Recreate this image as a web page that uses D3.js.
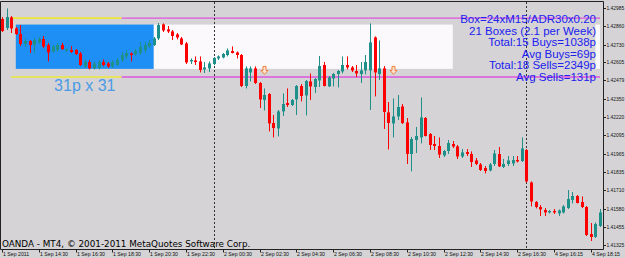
<!DOCTYPE html>
<html>
<head>
  <meta charset="utf-8">
  <script src="https://d3js.org/d3.v7.min.js"></script>
  <style>
    body { margin: 0; background: #d5d3d5; overflow: hidden; }
    svg { display: block; }
  </style>
</head>
<body>
<div id="chart"></div>
<script>
// M15 bars, 1 Sep 2011 12:30 .. 4 Sep 2011 18:45 (prices)
var opens = [
  1.42909, 1.42846, 1.42920, 1.42843, 1.42804, 1.42734, 1.42755, 1.42727, 1.42745, 1.42769,
  1.42727, 1.42682, 1.42692, 1.42727, 1.42689, 1.42692, 1.42692, 1.42668, 1.42577, 1.42608,
  1.42563, 1.42566, 1.42608, 1.42598, 1.42577, 1.42587, 1.42622, 1.42647, 1.42668, 1.42664,
  1.42671, 1.42692, 1.42717, 1.42727, 1.42773, 1.42871, 1.42836, 1.42822, 1.42801, 1.42773,
  1.42738, 1.42612, 1.42619, 1.42612, 1.42556, 1.42563, 1.42594, 1.42633, 1.42640, 1.42657,
  1.42685, 1.42675, 1.42657, 1.42440, 1.42535, 1.42563, 1.42461, 1.42342, 1.42384, 1.42181,
  1.42143, 1.42262, 1.42321, 1.42307, 1.42346, 1.42440, 1.42374, 1.42472, 1.42433, 1.42479,
  1.42587, 1.42437, 1.42493, 1.42524, 1.42542, 1.42587, 1.42570, 1.42545, 1.42524, 1.42549,
  1.42549, 1.42780, 1.42524, 1.42563, 1.42255, 1.42178, 1.42227, 1.42297, 1.42185, 1.41964,
  1.42062, 1.42080, 1.42216, 1.42104, 1.42034, 1.42020, 1.41954, 1.41985, 1.42034, 1.42017,
  1.41947, 1.41978, 1.41964, 1.41919, 1.41891, 1.41866, 1.41849, 1.41894, 1.41964, 1.41873,
  1.41894, 1.41898, 1.41922, 1.41915, 1.41992, 1.41765, 1.41628, 1.41593, 1.41572, 1.41555,
  1.41565, 1.41548, 1.41555, 1.41586, 1.41642, 1.41670, 1.41628, 1.41593, 1.41404, 1.41383,
  1.41460
];
var highs = [
  1.42923, 1.42983, 1.42930, 1.42853, 1.42867, 1.42776, 1.42762, 1.42776, 1.42783, 1.42790,
  1.42741, 1.42727, 1.42741, 1.42741, 1.42703, 1.42720, 1.42699, 1.42678, 1.42622, 1.42622,
  1.42608, 1.42622, 1.42626, 1.42608, 1.42622, 1.42636, 1.42678, 1.42692, 1.42675, 1.42699,
  1.42748, 1.42748, 1.42762, 1.42783, 1.42881, 1.42878, 1.42860, 1.42832, 1.42811, 1.42783,
  1.42748, 1.42633, 1.42647, 1.42647, 1.42608, 1.42612, 1.42643, 1.42654, 1.42671, 1.42703,
  1.42717, 1.42682, 1.42664, 1.42577, 1.42577, 1.42577, 1.42468, 1.42423, 1.42391, 1.42237,
  1.42272, 1.42388, 1.42423, 1.42349, 1.42447, 1.42454, 1.42482, 1.42528, 1.42496, 1.42650,
  1.42608, 1.42510, 1.42531, 1.42552, 1.42647, 1.42647, 1.42580, 1.42587, 1.42608, 1.42657,
  1.42878, 1.42787, 1.42759, 1.42580, 1.42328, 1.42353, 1.42377, 1.42314, 1.42216, 1.42083,
  1.42153, 1.42360, 1.42223, 1.42111, 1.42090, 1.42080, 1.41992, 1.42062, 1.42055, 1.42027,
  1.41999, 1.41999, 1.41982, 1.41936, 1.41901, 1.41880, 1.41901, 1.41992, 1.42013, 1.41929,
  1.41950, 1.41950, 1.41950, 1.42080, 1.41999, 1.41772, 1.41635, 1.41607, 1.41586, 1.41572,
  1.41579, 1.41576, 1.41607, 1.41712, 1.41698, 1.41677, 1.41667, 1.41600, 1.41481, 1.41485,
  1.41579
];
var lows = [
  1.42818, 1.42832, 1.42811, 1.42797, 1.42720, 1.42713, 1.42671, 1.42671, 1.42734, 1.42706,
  1.42612, 1.42671, 1.42678, 1.42692, 1.42678, 1.42671, 1.42657, 1.42580, 1.42566, 1.42556,
  1.42556, 1.42556, 1.42577, 1.42566, 1.42566, 1.42580, 1.42608, 1.42629, 1.42612, 1.42650,
  1.42657, 1.42671, 1.42706, 1.42720, 1.42762, 1.42818, 1.42811, 1.42762, 1.42766, 1.42727,
  1.42594, 1.42594, 1.42587, 1.42535, 1.42531, 1.42538, 1.42587, 1.42622, 1.42633, 1.42647,
  1.42668, 1.42633, 1.42433, 1.42423, 1.42472, 1.42454, 1.42286, 1.42269, 1.42122, 1.42080,
  1.42087, 1.42230, 1.42293, 1.42300, 1.42237, 1.42332, 1.42234, 1.42342, 1.42391, 1.42433,
  1.42437, 1.42433, 1.42437, 1.42430, 1.42528, 1.42556, 1.42538, 1.42503, 1.42461, 1.42521,
  1.42272, 1.42367, 1.42482, 1.42139, 1.41996, 1.42080, 1.42202, 1.42174, 1.41894, 1.41842,
  1.41971, 1.42038, 1.42087, 1.41992, 1.41992, 1.41936, 1.41943, 1.41964, 1.42006, 1.41929,
  1.41936, 1.41950, 1.41873, 1.41887, 1.41845, 1.41828, 1.41842, 1.41880, 1.41873, 1.41866,
  1.41880, 1.41880, 1.41905, 1.41908, 1.41765, 1.41597, 1.41583, 1.41530, 1.41530, 1.41548,
  1.41544, 1.41530, 1.41548, 1.41579, 1.41618, 1.41618, 1.41586, 1.41390, 1.41355, 1.41376,
  1.41453
];
var closes = [
  1.42825, 1.42923, 1.42843, 1.42804, 1.42734, 1.42755, 1.42727, 1.42762, 1.42769, 1.42717,
  1.42675, 1.42717, 1.42727, 1.42699, 1.42696, 1.42678, 1.42664, 1.42587, 1.42612, 1.42563,
  1.42598, 1.42608, 1.42587, 1.42577, 1.42608, 1.42622, 1.42657, 1.42671, 1.42657, 1.42685,
  1.42713, 1.42727, 1.42741, 1.42773, 1.42867, 1.42829, 1.42822, 1.42790, 1.42780, 1.42731,
  1.42605, 1.42622, 1.42608, 1.42552, 1.42570, 1.42598, 1.42636, 1.42647, 1.42664, 1.42689,
  1.42671, 1.42657, 1.42440, 1.42563, 1.42563, 1.42461, 1.42346, 1.42377, 1.42178, 1.42146,
  1.42262, 1.42314, 1.42307, 1.42342, 1.42440, 1.42370, 1.42475, 1.42437, 1.42489, 1.42580,
  1.42440, 1.42500, 1.42524, 1.42545, 1.42587, 1.42570, 1.42549, 1.42528, 1.42549, 1.42608,
  1.42745, 1.42535, 1.42563, 1.42258, 1.42181, 1.42227, 1.42293, 1.42181, 1.41964, 1.42069,
  1.42090, 1.42220, 1.42090, 1.42027, 1.42020, 1.41960, 1.41985, 1.42041, 1.42017, 1.41947,
  1.41975, 1.41964, 1.41908, 1.41894, 1.41852, 1.41845, 1.41891, 1.41968, 1.41877, 1.41894,
  1.41919, 1.41922, 1.41912, 1.42003, 1.41772, 1.41632, 1.41593, 1.41576, 1.41555, 1.41565,
  1.41555, 1.41569, 1.41597, 1.41649, 1.41670, 1.41621, 1.41593, 1.41397, 1.41383, 1.41474,
  1.41555
];

// axis labels
var timeLabels = ["1 Sep 2011", "1 Sep 14:30", "1 Sep 16:30", "1 Sep 18:30", "1 Sep 20:30",
  "1 Sep 22:30", "2 Sep 00:30", "2 Sep 02:30", "2 Sep 04:30", "2 Sep 06:30", "2 Sep 08:30",
  "2 Sep 10:30", "2 Sep 12:30", "2 Sep 14:30", "2 Sep 16:30", "4 Sep 16:15", "4 Sep 18:15"];
var timeLabelBars = [0, 8, 16, 24, 32, 40, 48, 56, 64, 72, 80, 88, 96, 104, 112, 120, 128];
var priceTicks = [1.42985, 1.42860, 1.42730, 1.42605, 1.42479, 1.42350, 1.42220,
  1.42095, 1.41965, 1.41835, 1.41710, 1.41580, 1.41455, 1.41325];
var daySeparators = [46, 114];

// indicator objects
var boxFrom = [3, 33, 129];
var boxTo = [33, 98, 130];
var boxTop = 1.42870, boxBottom = 1.42560;
var levelHigh = 1.42915, levelLow = 1.42503;
var oldLevel = [2, 26], newLevel = [26, 130];
var arrowBars = [57, 85];
var arrowPrice = 1.42577;
var boxLabel = "31p x 31";
var infoLines = ["Box=24xM15/ADR30x0.20", "21 Boxes (2.1 per Week)", "Total:15 Buys=1038p",
  "Avg Buys=69p", "Total:18 Sells=2349p", "Avg Sells=131p"];
var copyright = "OANDA - MT4, \u00A9 2001-2011 MetaQuotes Software Corp.";

var W = 625, H = 258, plotRight = 603.5, plotBottom = 249.5;
var bull = "#1f8f8a", bear = "#ff0000";

var svg = d3.select("#chart").append("svg").attr("width", W).attr("height", H);

var x = d3.scaleLinear().domain([0, opens.length - 1]).range([2, 600]);
var y = d3.scaleLinear().domain([1.4132, 1.43028]).range([246, 2]);
var px = function(i) { return Math.round(x(i)); };

// boxes (behind everything else)
svg.selectAll("rect.box").data(boxFrom).enter().append("rect")
  .attr("class", "box")
  .attr("x", function(d) { return x(d); })
  .attr("width", function(d, i) { return x(boxTo[i]) - x(d); })
  .attr("y", y(boxTop))
  .attr("height", y(boxBottom) - y(boxTop))
  .attr("fill", function(d, i) { return i === 0 ? "#1e8ff5" : "#fbf9fb"; });

// breakout levels: yellow for the old box, magenta for the current one
[levelHigh, levelLow].forEach(function(lv) {
  svg.append("line").attr("x1", x(oldLevel[0])).attr("x2", x(oldLevel[1]))
    .attr("y1", y(lv)).attr("y2", y(lv))
    .attr("stroke", "#ece83a").attr("stroke-width", 1.6);
  svg.append("line").attr("x1", x(newLevel[0])).attr("x2", x(newLevel[1]))
    .attr("y1", y(lv)).attr("y2", y(lv))
    .attr("stroke", "#dd55dd").attr("stroke-width", 1.4);
});

// period separators
svg.selectAll("line.sep").data(daySeparators).enter().append("line")
  .attr("class", "sep")
  .attr("x1", function(d) { return px(d) + 0.5; })
  .attr("x2", function(d) { return px(d) + 0.5; })
  .attr("y1", 2).attr("y2", plotBottom)
  .attr("stroke", "#333").attr("stroke-dasharray", "2,2");

// candles
var idx = d3.range(opens.length);
var up = function(i) { return closes[i] >= opens[i]; };

svg.selectAll("line.wick").data(idx).enter().append("line")
  .attr("class", "wick")
  .attr("x1", function(i) { return px(i) + 0.5; })
  .attr("x2", function(i) { return px(i) + 0.5; })
  .attr("y1", function(i) { return y(highs[i]); })
  .attr("y2", function(i) { return y(lows[i]); })
  .attr("stroke", function(i) { return up(i) ? bull : bear; })
  .attr("stroke-width", 1);

svg.selectAll("rect.body").data(idx).enter().append("rect")
  .attr("class", "body")
  .attr("x", function(i) { return px(i) - 1; })
  .attr("width", 3)
  .attr("y", function(i) { return y(Math.max(opens[i], closes[i])); })
  .attr("height", function(i) { return Math.max(1.2, Math.abs(y(opens[i]) - y(closes[i]))); })
  .attr("fill", function(i) { return up(i) ? bull : bear; });

// sell arrows
svg.selectAll("path.arrow").data(arrowBars).enter().append("path")
  .attr("class", "arrow")
  .attr("transform", function(d) { return "translate(" + (px(d) + 0.5) + "," + y(arrowPrice) + ")"; })
  .attr("d", "M-1.5,0 h3 v4 h2 l-3.5,4 l-3.5,-4 h2 z")
  .attr("fill", "#fde3d3").attr("stroke", "#f08040").attr("stroke-width", 1);

// frame and price axis
svg.append("path")
  .attr("d", "M0.5,1.5 H" + plotRight + " V" + plotBottom + " H0.5 Z")
  .attr("fill", "none").attr("stroke", "#222").attr("stroke-width", 1);

var yTicks = svg.append("g");
priceTicks.forEach(function(p) {
  var yy = Math.round(y(p)) + 0.5;
  yTicks.append("line").attr("x1", plotRight).attr("x2", plotRight + 2.5)
    .attr("y1", yy).attr("y2", yy).attr("stroke", "#222");
  yTicks.append("text").attr("x", 606.5).attr("y", yy).attr("dy", "0.35em")
    .attr("font-family", "Liberation Sans, Arial, sans-serif").attr("font-size", 4.9)
    .attr("fill", "#111").text(d3.format(".5f")(p));
});

var xTicks = svg.append("g");
timeLabels.forEach(function(t, k) {
  var xx = px(timeLabelBars[k]) + 0.5;
  xTicks.append("line").attr("x1", xx).attr("x2", xx)
    .attr("y1", plotBottom).attr("y2", plotBottom + 3).attr("stroke", "#222");
  xTicks.append("text").attr("x", xx + 0.5).attr("y", 256)
    .attr("font-family", "Liberation Sans, Arial, sans-serif").attr("font-size", 5.2)
    .attr("fill", "#111").text(t);
});

// texts
svg.append("text")
  .attr("x", x((boxFrom[0] + boxTo[0]) / 2)).attr("y", y(boxBottom) + 22)
  .attr("text-anchor", "middle")
  .attr("font-family", "Liberation Sans, Arial, sans-serif").attr("font-size", 16)
  .attr("fill", "#4b9be6").text(boxLabel);

svg.selectAll("text.info").data(infoLines).enter().append("text")
  .attr("class", "info")
  .attr("x", 596).attr("y", function(d, i) { return 23 + i * 11.6; })
  .attr("text-anchor", "end")
  .attr("font-family", "Liberation Sans, Arial, sans-serif").attr("font-size", 11.5)
  .attr("fill", "#2020f0").text(function(d) { return d; });

svg.append("text").attr("x", 2).attr("y", 247)
  .attr("font-family", "DejaVu Sans, sans-serif").attr("font-size", 8.8)
  .attr("fill", "#000").text(copyright);
</script>
</body>
</html>
